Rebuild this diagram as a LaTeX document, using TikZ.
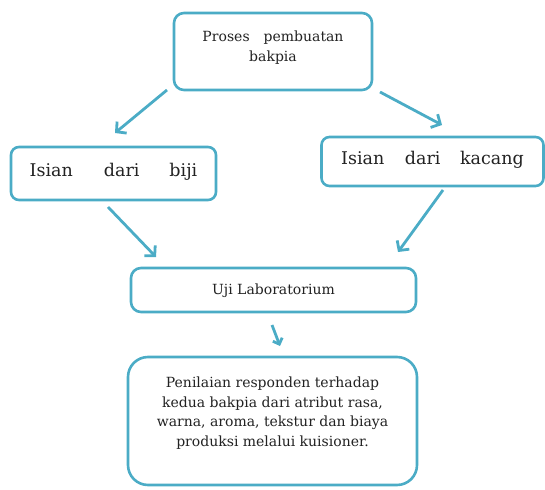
\documentclass[tikz,border=0pt]{standalone}
\usepackage{fontspec}
\setmainfont{DejaVu Serif}
\usetikzlibrary{arrows.meta}
\definecolor{acc}{HTML}{4BACC6}
\definecolor{txt}{HTML}{222222}
\tikzset{
  box/.style={draw=acc, line width=2.6pt, fill=white, rounded corners=10pt, inner sep=0pt, text=txt, font=\fontsize{14}{19.5}\selectfont},
  bigtext/.style={font=\fontsize{17.5}{21}\selectfont, text height=12.8pt},
  conn/.style={draw=acc, line width=2.8pt, -{Straight Barb[length=7pt,width=15pt]}}
}
\begin{document}
\begin{tikzpicture}[x=1pt,y=-1pt]
\useasboundingbox (0,0) rectangle (545,489);
\node[box, minimum width=198pt, minimum height=77pt, align=center, text height=21pt, text depth=0pt, font=\fontsize{14}{20}\selectfont] (top) at (273,51.5)
  {Proses\hspace{14pt}pembuatan\\bakpia};
\node[box, bigtext, minimum width=205pt, minimum height=53pt, rounded corners=8pt, text depth=7pt] (left) at (113.5,173.5)
  {Isian\hspace{31pt}dari\hspace{30pt}biji};
\node[box, bigtext, minimum width=222pt, minimum height=49pt, rounded corners=8pt, text depth=6pt] (right) at (432.5,161.5)
  {Isian\hspace{20.5pt}dari\hspace{19.5pt}kacang\hspace{14pt}};
\node[box, minimum width=285pt, minimum height=44pt, text height=10.2pt, text depth=2pt] (uji) at (273.5,290)
  {Uji Laboratorium};
\node[box, minimum width=289pt, minimum height=128pt, rounded corners=20pt, align=center, text height=50pt, text depth=0pt] (pen) at (272.5,421)
  {Penilaian responden terhadap\\kedua bakpia dari atribut rasa,\\warna, aroma, tekstur dan biaya\\produksi melalui kuisioner.};
\coordinate (a1s) at (167,90);
\coordinate (a1e) at (115,133);
\coordinate (a2s) at (380,92);
\coordinate (a2e) at (442,125);
\coordinate (a3s) at (108,207);
\coordinate (a3e) at (156,257);
\coordinate (a4s) at (443,190);
\coordinate (a4e) at (398,252);
\coordinate (a5s) at (272,325);
\coordinate (a5e) at (280,346);
\draw[conn] (a1s) -- (a1e);
\draw[conn] (a2s) -- (a2e);
\draw[conn] (a3s) -- (a3e);
\draw[conn] (a4s) -- (a4e);
\draw[conn, -{Straight Barb[length=5pt,width=10pt]}] (a5s) -- (a5e);
\end{tikzpicture}
\end{document}
